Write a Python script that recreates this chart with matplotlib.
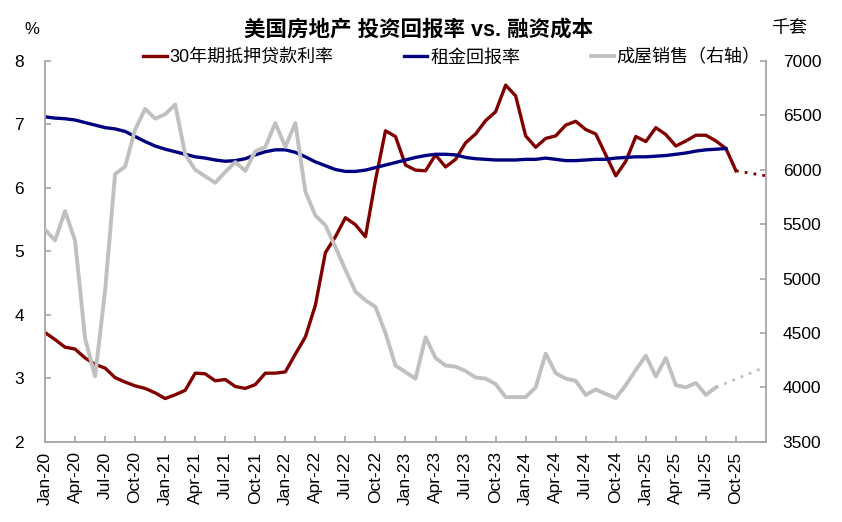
import matplotlib
matplotlib.use('Agg')
import matplotlib.pyplot as plt
from matplotlib.lines import Line2D
import numpy as np

plt.rcParams['font.family'] = ['Liberation Sans', 'Noto Sans CJK SC', 'DejaVu Sans']

# ---- data (monthly, index 0 = Jan-20) ----
mortgage_rate = [3.72, 3.61, 3.49, 3.46, 3.32, 3.22, 3.16, 3.01, 2.94, 2.88,
                 2.84, 2.77, 2.68, 2.74, 2.81, 3.08, 3.07, 2.96, 2.98, 2.87,
                 2.84, 2.90, 3.08, 3.08, 3.10, 3.38, 3.65, 4.15, 4.98, 5.23,
                 5.53, 5.42, 5.23, 6.12, 6.90, 6.81, 6.36, 6.28, 6.27, 6.52,
                 6.33, 6.45, 6.71, 6.85, 7.06, 7.20, 7.62, 7.45, 6.82, 6.64,
                 6.78, 6.82, 6.99, 7.05, 6.92, 6.85, 6.52, 6.19, 6.42, 6.81,
                 6.73, 6.95, 6.84, 6.66, 6.74, 6.83, 6.83, 6.74, 6.62, 6.27]
mortgage_proj_end = 6.19   # dotted extension to month index 72

rent_yield = [7.12, 7.10, 7.09, 7.07, 7.03, 6.99, 6.95, 6.93, 6.89, 6.81,
              6.73, 6.66, 6.61, 6.57, 6.53, 6.49, 6.47, 6.44, 6.42, 6.43,
              6.46, 6.52, 6.57, 6.60, 6.60, 6.56, 6.49, 6.41, 6.35, 6.29,
              6.26, 6.26, 6.28, 6.32, 6.36, 6.40, 6.44, 6.48, 6.51, 6.53,
              6.53, 6.52, 6.48, 6.46, 6.45, 6.44, 6.44, 6.44, 6.45, 6.45,
              6.47, 6.45, 6.43, 6.43, 6.44, 6.45, 6.45, 6.47, 6.48, 6.49,
              6.49, 6.50, 6.51, 6.53, 6.55, 6.58, 6.60, 6.61, 6.62]

existing_sales = [5450, 5350, 5620, 5350, 4450, 4100, 4890, 5960, 6030, 6370,
                  6560, 6470, 6510, 6600, 6140, 6000, 5940, 5880, 5980, 6070,
                  5990, 6170, 6210, 6430, 6210, 6430, 5800, 5580, 5490, 5290,
                  5080, 4880, 4800, 4740, 4500, 4200, 4140, 4080, 4460, 4270,
                  4200, 4190, 4150, 4090, 4080, 4030, 3910, 3910, 3910, 4000,
                  4310, 4130, 4080, 4060, 3930, 3980, 3940, 3900, 4020, 4160,
                  4290, 4100, 4270, 4020, 4000, 4040, 3930, 4000]
sales_proj_end = 4190      # dotted extension to month index 72

proj_end_index = 72
tick_labels = ['Jan-20', 'Apr-20', 'Jul-20', 'Oct-20', 'Jan-21', 'Apr-21',
               'Jul-21', 'Oct-21', 'Jan-22', 'Apr-22', 'Jul-22', 'Oct-22',
               'Jan-23', 'Apr-23', 'Jul-23', 'Oct-23', 'Jan-24', 'Apr-24',
               'Jul-24', 'Oct-24', 'Jan-25', 'Apr-25', 'Jul-25', 'Oct-25']

title = '美国房地产 投资回报率 vs. 融资成本'
legend_labels = ['30年期抵押贷款利率', '租金回报率', '成屋销售（右轴）']

RED = '#800000'
BLUE = '#000080'
GRAY = '#C0C0C0'
AXC = '#A6A6A6'

fig = plt.figure(figsize=(8.42, 5.22), dpi=100)
ax = fig.add_axes([45/842, 1 - 441.7/522, (766-45)/842, (441.7-61)/522])
ax2 = ax.twinx()

xm = np.arange(len(mortgage_rate))
xr = np.arange(len(rent_yield))
xs = np.arange(len(existing_sales))

ax.plot(xm, mortgage_rate, color=RED, lw=2.4, solid_joinstyle='round')
ax.plot([xm[-1], proj_end_index], [mortgage_rate[-1], mortgage_proj_end],
        color=RED, lw=2.0, ls=(0, (1, 2.2)))
ax.plot(xr, rent_yield, color=BLUE, lw=2.4, solid_joinstyle='round')
ax2.plot(xs, existing_sales, color=GRAY, lw=2.8, solid_joinstyle='round')
ax2.plot([xs[-1], proj_end_index], [existing_sales[-1], sales_proj_end],
         color=GRAY, lw=2.0, ls=(0, (1, 2.2)))

ax.set_xlim(0, proj_end_index)
ax.set_ylim(2, 8)
ax2.set_ylim(3500, 7000)
ax.set_yticks(np.arange(2, 9, 1))
ax2.set_yticks(np.arange(3500, 7001, 500))
ax.set_xticks(np.arange(0, 3 * len(tick_labels), 3))
ax.set_xticklabels(tick_labels, rotation=90)

for a in (ax, ax2):
    a.spines['top'].set_visible(False)
    for s in a.spines.values():
        s.set_color(AXC)
        s.set_linewidth(1.3)
ax.spines['right'].set_visible(False)
ax2.spines['left'].set_visible(False)
ax2.spines['bottom'].set_visible(False)

ax.tick_params(axis='y', direction='in', length=4, color=AXC, width=1.2,
               pad=15, labelsize=12.5)
ax.tick_params(axis='x', direction='in', length=4, color=AXC, width=1.2,
               pad=7, labelsize=12.5)
ax2.tick_params(axis='y', direction='in', length=4, color=AXC, width=1.2,
                pad=12, labelsize=12.5)

fig.text(419/842, 1 - 30/522, title, ha='center', va='center',
         fontsize=15.5, fontweight='bold')
fig.text(32/842, 1 - 29/522, '%', ha='center', va='center', fontsize=12)
fig.text(789/842, 1 - 29/522, '千套', ha='center', va='center', fontsize=13)

handles = [Line2D([], [], color=RED, lw=2.4),
           Line2D([], [], color=BLUE, lw=2.4),
           Line2D([], [], color=GRAY, lw=2.8)]
fig.legend(handles, legend_labels, loc='center', ncol=3,
           bbox_to_anchor=(452/842, 1 - 58/522), frameon=False,
           fontsize=13, handlelength=1.3, handletextpad=0.15,
           columnspacing=3.9, borderpad=0, borderaxespad=0)

fig.savefig('out.png', dpi=100)
